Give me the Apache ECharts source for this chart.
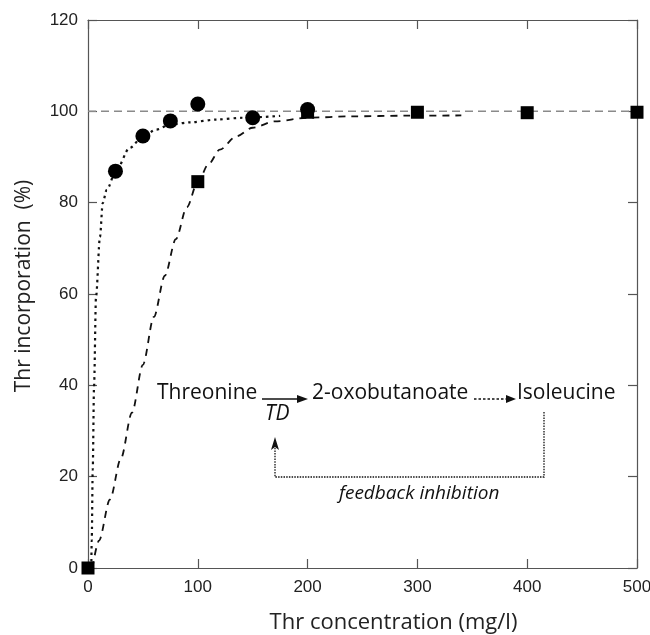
<!DOCTYPE html>
<html><head><meta charset="utf-8">
<script src="https://cdn.jsdelivr.net/npm/echarts@6/dist/echarts.min.js"></script>
<style>html,body{margin:0;padding:0;background:#fff}#c{width:650px;height:635px}</style>
</head><body><div id="c"></div>
<script>
// Measured points
const circleX = [25, 50, 75, 100, 150, 200];
const circleY = [86.9, 94.6, 97.9, 101.6, 98.6, 100.4];
const squareX = [0, 100, 200, 300, 400, 500];
const squareY = [0, 84.6, 99.8, 99.8, 99.7, 99.8];
// Fitted curves
const dottedX = [3, 3.4, 4.3, 5.5, 7.3, 10.9, 13.4, 17, 25.5, 38, 50, 62, 75, 93, 117, 141, 175];
const dottedY = [0, 6, 21.5, 39.7, 59.4, 72.5, 79.9, 82.8, 87, 92, 94.5, 96, 97.1, 97.6, 98.2, 98.6, 99];
const dashedX = [4, 10, 20, 30, 40, 50, 60, 70, 80, 90, 100, 110, 120, 135, 150, 170, 200, 240, 290, 340];
const dashedY = [0, 6, 15, 24, 34, 44.5, 55, 64, 72, 79, 84.6, 88.5, 91.6, 94.5, 96.4, 97.8, 98.6, 98.9, 99.05, 99.1];
const refX = [0, 500];
const refY = [100, 100];
const xTickMin = 0, xTickMax = 500, xTickStep = 100;
const yTickMin = 0, yTickMax = 120, yTickStep = 20;

const zip = (a, b) => a.map((v, i) => [v, b[i]]);
const SANS = '"Open Sans", "Noto Sans", sans-serif';
const TICKF = '"Liberation Sans", Arial, sans-serif';
const mkLine = () => ({show: true, onZero: false, lineStyle: {color: '#555', width: 1.2}});
const mkTick = () => ({show: true, inside: true, length: 9, lineStyle: {color: '#555', width: 1.2}});

const chart = echarts.init(document.getElementById('c'), null, {renderer: 'canvas'});
chart.setOption({
  animation: false,
  backgroundColor: '#fff',
  grid: {left: 88, right: 13, top: 20, bottom: 67, containLabel: false, outerBoundsMode: 'none'},
  xAxis: [{
    type: 'value', min: xTickMin, max: xTickMax, interval: xTickStep, position: 'bottom',
    axisLine: mkLine(), axisTick: mkTick(), splitLine: {show: false},
    axisLabel: {fontFamily: TICKF, fontSize: 17, color: '#222', margin: 11},
    name: 'Thr concentration (mg/l)', nameLocation: 'middle', nameGap: 44,
    nameTextStyle: {fontFamily: SANS, fontSize: 22, color: '#222', padding: [0, 0, 0, 62]}
  }, {
    type: 'value', min: xTickMin, max: xTickMax, interval: xTickStep, position: 'top',
    axisLine: mkLine(), axisTick: mkTick(), splitLine: {show: false}, axisLabel: {show: false}
  }],
  yAxis: [{
    type: 'value', min: yTickMin, max: yTickMax, interval: yTickStep, position: 'left',
    axisLine: mkLine(), axisTick: mkTick(), splitLine: {show: false},
    axisLabel: {fontFamily: TICKF, fontSize: 17, color: '#222', margin: 10},
    name: 'Thr incorporation  (%)', nameLocation: 'middle', nameGap: 53, nameRotate: 90,
    nameTextStyle: {fontFamily: SANS, fontSize: 21, color: '#222', padding: [0, 0, 0, 16]}
  }, {
    type: 'value', min: yTickMin, max: yTickMax, interval: yTickStep, position: 'right',
    axisLine: mkLine(), axisTick: mkTick(), splitLine: {show: false}, axisLabel: {show: false}
  }],
  series: [
    {type: 'line', data: zip(refX, refY), symbol: 'none', z: 1,
     lineStyle: {color: '#8a8a8a', width: 1.5, type: [8, 5]}},
    {type: 'line', data: zip(dottedX, dottedY), symbol: 'none', smooth: 0.3, smoothMonotone: 'x', z: 2,
     lineStyle: {color: '#111', width: 2.2, type: [2.5, 4]}},
    {type: 'line', data: zip(dashedX, dashedY), symbol: 'none', smooth: 0.3, smoothMonotone: 'x', z: 2,
     lineStyle: {color: '#111', width: 1.8, type: [7, 6]}},
    {type: 'scatter', data: zip(circleX, circleY), symbol: 'circle', symbolSize: 15, clip: false, z: 5,
     itemStyle: {color: '#000', opacity: 1}},
    {type: 'scatter', data: zip(squareX, squareY), symbol: 'rect', symbolSize: 13, clip: false, z: 5,
     itemStyle: {color: '#000', opacity: 1}}
  ],
  graphic: [
    {type: 'text', left: 157, top: 383, style: {text: 'Threonine', fontFamily: SANS, fontSize: 21, fill: '#111'}},
    {type: 'line', shape: {x1: 262, y1: 399, x2: 300, y2: 399}, style: {stroke: '#111', lineWidth: 1.6}},
    {type: 'polygon', shape: {points: [[297, 395], [308, 399], [297, 403]]}, style: {fill: '#111'}},
    {type: 'text', left: 312, top: 383, style: {text: '2-oxobutanoate', fontFamily: SANS, fontSize: 21, fill: '#111'}},
    {type: 'line', shape: {x1: 474, y1: 399, x2: 508, y2: 399}, style: {stroke: '#111', lineWidth: 1.4, lineDash: [2.5, 2]}},
    {type: 'polygon', shape: {points: [[506, 395], [516, 399], [506, 403]]}, style: {fill: '#111'}},
    {type: 'text', left: 517, top: 383, style: {text: 'Isoleucine', fontFamily: SANS, fontSize: 21, fill: '#111'}},
    {type: 'text', left: 265, top: 404, style: {text: 'TD', fontFamily: SANS, fontSize: 21, fontStyle: 'italic', fill: '#111'}},
    {type: 'polyline', shape: {points: [[544, 412], [544, 477], [275, 477], [275, 448]]},
     style: {stroke: '#111', fill: null, lineWidth: 1.3, lineDash: [1.5, 1.2]}},
    {type: 'polygon', shape: {points: [[275, 437], [279, 450], [275, 447], [271, 450]]}, style: {fill: '#111'}},
    {type: 'text', left: 339, top: 484, style: {text: 'feedback inhibition', fontFamily: SANS, fontSize: 19, fontStyle: 'italic', fill: '#111'}}
  ]
});
</script></body></html>
